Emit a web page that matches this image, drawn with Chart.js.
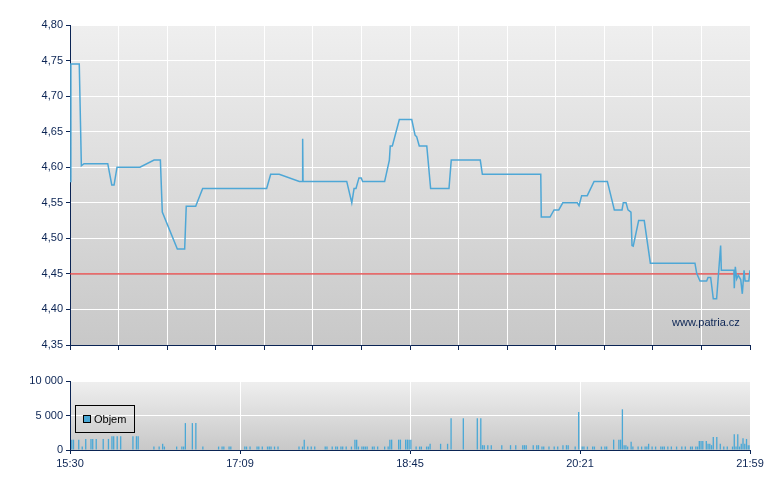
<!DOCTYPE html>
<html lang="cs">
<head>
  <meta charset="UTF-8" />
  <title>Intraday graf</title>
  <script src="https://cdn.jsdelivr.net/npm/chart.js"></script>
  <style>
    body { margin: 0; background: #fff; font-family: "Liberation Sans", Arial, sans-serif; }
    .wrap { position: relative; width: 780px; height: 490px; }
    #priceChart { position: absolute; left: 0; top: 0; }
    #volumeChart { position: absolute; left: 0; top: 355px; }
    .source { position: absolute; left: 672px; top: 316px; font-size: 11px; line-height: 13px; color: #0b2454; }
    .legend { position: absolute; left: 75px; top: 405px; width: 60px; height: 28px; box-sizing: border-box;
              border: 1px solid #000; font-size: 11px; color: #000; }
    .legend i { position: absolute; left: 7px; top: 9px; width: 6px; height: 6px; border: 1px solid #000; background: #4aa8d6; }
    .legend span { position: absolute; left: 18px; top: 7px; line-height: 13px; }
  </style>
</head>
<body>
  <div class="wrap">
    <canvas id="priceChart" width="780" height="360"></canvas>
    <canvas id="volumeChart" width="780" height="135"></canvas>
    <div class="source">www.patria.cz</div>
    <div class="legend"><i></i><span>Objem</span></div>
  </div>

  <script>
    // minutes after 15:30, session ends 21:59
    const sessionLength = 389;
    const timeLabels = ['15:30', '17:09', '18:45', '20:21', '21:59'];
    const priceTicks = [4.35, 4.40, 4.45, 4.50, 4.55, 4.60, 4.65, 4.70, 4.75, 4.80];
    const volumeTicks = [0, 5000, 10000];
    const refPrice = 4.45;

    const priceMinutes = [0, 0.5, 5.3, 6.5, 8.0, 21.6, 23.9, 25.2, 26.9, 40.0, 48.1, 51.7, 52.8, 61.4, 65.6,
      66.5, 71.9, 75.9, 112.5, 114.8, 119.7, 131.2, 132.9, 133.1, 133.3, 158.3, 161.2, 162.5, 163.6, 165.3,
      166.6, 167.4, 180.0, 182.7, 183.2, 184.4, 188.4, 195.5, 197.4, 198.3, 199.8, 204.1, 206.3, 216.8, 218.1,
      234.7, 235.9, 269.3, 269.6, 274.6, 276.9, 279.6, 281.9, 290.2, 291.2, 292.7, 295.9, 299.8, 307.4, 311.4,
      315.8, 316.5, 318.1, 319.2, 320.9, 321.5, 322.2, 325.3, 328.5, 332.0, 357.5, 358.5, 360.4, 364.2, 365.0,
      366.5, 368.0, 369.9, 372.2, 372.6, 379.8, 380.0, 380.6, 381.4, 382.3, 383.7, 384.6, 385.6, 386.2, 388.3, 389.0];
    const priceValues = [4.58, 4.745, 4.745, 4.602, 4.605, 4.605, 4.575, 4.575, 4.60, 4.60, 4.61, 4.61, 4.537, 4.485, 4.485,
      4.545, 4.545, 4.57, 4.57, 4.59, 4.59, 4.58, 4.58, 4.64, 4.58, 4.58, 4.55, 4.57, 4.57, 4.585,
      4.585, 4.58, 4.58, 4.61, 4.63, 4.63, 4.667, 4.667, 4.645, 4.643, 4.63, 4.63, 4.57, 4.57, 4.61,
      4.61, 4.59, 4.59, 4.53, 4.53, 4.54, 4.54, 4.55, 4.55, 4.546, 4.56, 4.56, 4.58, 4.58, 4.54,
      4.54, 4.55, 4.55, 4.54, 4.537, 4.49, 4.489, 4.525, 4.525, 4.465, 4.465, 4.451, 4.44, 4.44, 4.445,
      4.445, 4.415, 4.415, 4.49, 4.455, 4.455, 4.43, 4.46, 4.443, 4.448, 4.442, 4.422, 4.455, 4.44, 4.44, 4.455];

    const volumeMinutes = [1, 2, 5, 7, 9, 12, 13, 15, 19, 22, 24, 25, 27, 29, 36, 38, 39, 48, 51, 53, 54, 61, 64, 65,
      66, 70, 72, 76, 85, 87, 88, 91, 92, 100, 101, 103, 107, 108, 110, 113, 114, 115, 117, 119,
      131, 133, 134, 136, 138, 140, 146, 147, 150, 152, 153, 155, 156, 158, 161, 163, 164, 165, 167, 168,
      169, 170, 173, 174, 176, 180, 182, 183, 184, 188, 189, 192, 193, 194, 195, 198, 200, 201, 204, 205,
      206, 212, 216, 218, 225, 233, 235, 236, 237, 239, 241, 247, 252, 255, 259, 260, 261, 265, 267, 268,
      270, 271, 274, 277, 279, 282, 284, 285, 289, 291, 293, 294, 296, 299, 300, 304, 306, 307, 311, 314,
      315, 316, 317, 318, 319, 321, 322, 325, 327, 329, 330, 331, 333, 335, 338, 339, 340, 342, 344, 347,
      350, 352, 355, 356, 358, 359, 360, 361, 362, 364, 365, 366, 367, 368, 370, 372, 374, 376, 379, 380,
      381, 382, 383, 384, 385, 386, 387, 388, 389];
    const volumeValues = [1500, 1500, 1500, 500, 1600, 1600, 1600, 1600, 1600, 1600, 2000, 2000, 2000, 2000, 2000, 2000, 2000, 500, 500, 900, 500, 500, 500, 500,
      3900, 3900, 3900, 500, 500, 500, 500, 500, 500, 500, 500, 500, 500, 500, 500, 500, 500, 500, 500, 500,
      500, 500, 1500, 500, 500, 500, 500, 500, 500, 500, 500, 500, 500, 500, 500, 1500, 1500, 500, 500, 500,
      500, 500, 500, 500, 500, 500, 500, 1500, 1500, 1500, 1500, 1500, 1500, 1500, 1500, 500, 500, 500, 500, 500,
      900, 900, 900, 4600, 4600, 4600, 4600, 700, 700, 700, 700, 700, 700, 700, 700, 700, 700, 700, 700, 700,
      500, 500, 500, 500, 500, 700, 700, 700, 500, 5500, 500, 500, 500, 500, 500, 500, 500, 500, 1500, 1500,
      1500, 5900, 700, 700, 500, 1200, 500, 500, 500, 500, 500, 900, 500, 500, 500, 500, 500, 500, 500, 500,
      500, 500, 500, 500, 500, 500, 1300, 1300, 1300, 1300, 900, 900, 700, 1900, 1900, 900, 500, 500, 500, 2300,
      500, 2300, 500, 900, 1700, 900, 1600, 700, 700];

    const navy = '#0b2454';
    const tickFont = { family: '"Liberation Sans", Arial, sans-serif', size: 11 };

    const plotBg = {
      id: 'plotBg',
      beforeDraw(chart) {
        const { ctx, chartArea: a } = chart;
        const g = ctx.createLinearGradient(0, a.top, 0, a.bottom);
        g.addColorStop(0, '#efefef');
        g.addColorStop(1, '#c8c8c8');
        ctx.save();
        ctx.fillStyle = g;
        ctx.fillRect(a.left, a.top, a.right - a.left, a.bottom - a.top);
        ctx.restore();
      }
    };

    function evenTicks(parts) {
      return scale => {
        scale.ticks = [];
        for (let i = 0; i <= parts; i++) scale.ticks.push({ value: sessionLength * i / parts });
      };
    }
    function fixedTicks(values) {
      return scale => { scale.ticks = values.map(v => ({ value: v })); };
    }
    const spaced = v => String(v).replace(/\B(?=(\d{3})+(?!\d))/g, ' ');

    const pricePoints = priceMinutes.map((m, i) => ({ x: m, y: priceValues[i] }));
    const volumePoints = volumeMinutes.map((m, i) => ({ x: m, y: volumeValues[i] }));

    new Chart(document.getElementById('priceChart'), {
      type: 'line',
      data: {
        datasets: [
          { data: pricePoints, borderColor: '#4ea7d6', borderWidth: 1.5, pointRadius: 0, tension: 0 },
          { data: [{ x: 0, y: refPrice }, { x: sessionLength, y: refPrice }],
            borderColor: '#e23a3a', borderWidth: 1.2, pointRadius: 0 }
        ]
      },
      options: {
        responsive: false,
        animation: false,
        layout: { padding: { left: 8, top: 25, right: 30, bottom: 10 } },
        plugins: { legend: { display: false }, tooltip: { enabled: false } },
        scales: {
          x: {
            type: 'linear', min: 0, max: sessionLength,
            afterBuildTicks: evenTicks(14),
            afterFit: s => { s.height = 5; },
            ticks: { display: false },
            grid: { color: '#fff', tickColor: navy, tickLength: 5 },
            border: { color: navy, width: 1 }
          },
          y: {
            min: 4.35, max: 4.80,
            afterBuildTicks: fixedTicks(priceTicks),
            afterFit: s => { s.width = 62; },
            ticks: { callback: v => v.toFixed(2).replace('.', ','), color: navy, font: tickFont, padding: 3 },
            grid: { color: '#fff', tickColor: navy, tickLength: 4 },
            border: { color: navy, width: 1 }
          }
        }
      },
      plugins: [plotBg]
    });

    new Chart(document.getElementById('volumeChart'), {
      type: 'bar',
      data: {
        datasets: [{
          label: 'Objem', data: volumePoints, backgroundColor: '#4aa8d6', borderWidth: 0,
          barPercentage: 0.75, categoryPercentage: 1
        }]
      },
      options: {
        responsive: false,
        animation: false,
        layout: { padding: { left: 8, top: 26, right: 30, bottom: 0 } },
        plugins: { legend: { display: false }, tooltip: { enabled: false } },
        scales: {
          x: {
            type: 'linear', min: 0, max: sessionLength, offset: false,
            afterBuildTicks: evenTicks(4),
            afterFit: s => { s.height = 40; },
            ticks: { callback: (v, i) => timeLabels[i], color: navy, font: tickFont, maxRotation: 0, autoSkip: false, padding: 3 },
            grid: { color: '#fff', tickColor: navy, tickLength: 4, offset: false },
            border: { color: navy, width: 1 }
          },
          y: {
            min: 0, max: 10000,
            afterBuildTicks: fixedTicks(volumeTicks),
            afterFit: s => { s.width = 62; },
            ticks: { callback: v => spaced(v), color: navy, font: tickFont, padding: 3 },
            grid: { color: '#fff', tickColor: navy, tickLength: 4 },
            border: { color: navy, width: 1 }
          }
        }
      },
      plugins: [plotBg]
    });
  </script>
</body>
</html>
